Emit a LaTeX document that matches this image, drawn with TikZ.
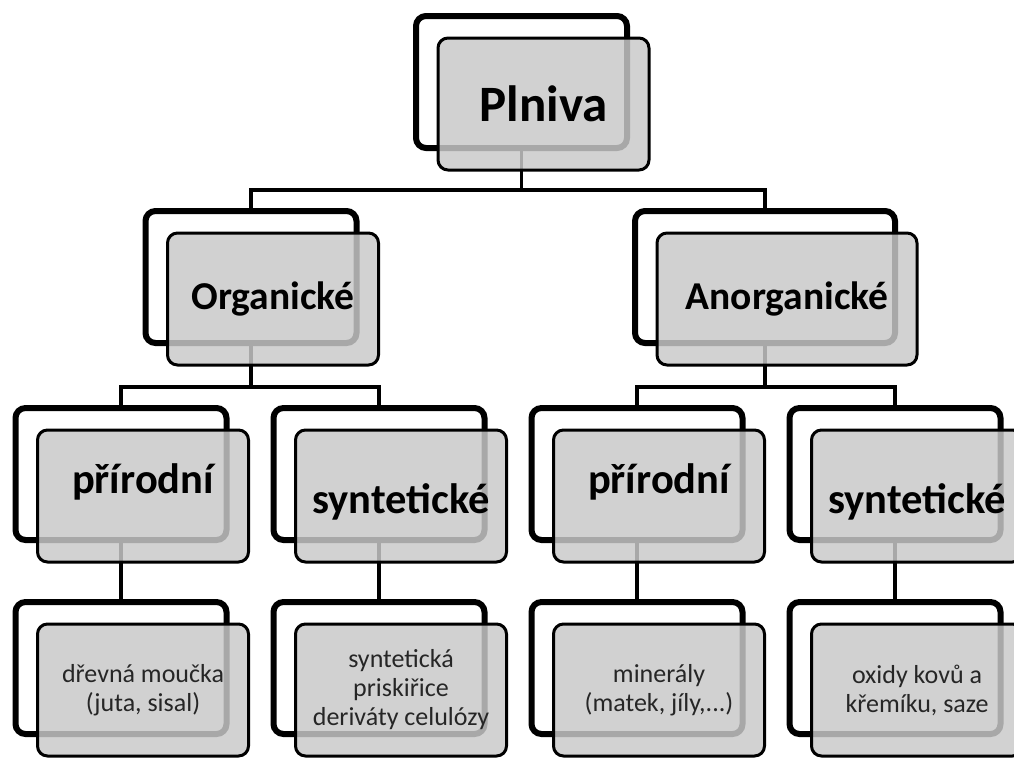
\documentclass[tikz,border=0pt]{standalone}
\usepackage{fontspec}
\setmainfont{Carlito}

\begin{document}
\begin{tikzpicture}[x=1pt,y=-1pt]
      \tikzset{
        back/.style={draw,line width=6pt,rounded corners=10pt,fill=white,inner sep=0pt,
                     minimum width=211pt,minimum height=132pt},
        front/.style={draw,line width=3pt,rounded corners=10pt,fill=black!21,fill opacity=0.84,
                      text opacity=1,inner sep=0pt,align=center,
                      minimum width=211pt,minimum height=132pt},
        link/.style={line width=3.5pt},
        lvlA/.style={font=\bfseries\fontsize{51}{56}\selectfont,text height=34pt,text depth=0pt},
        lvlB/.style={font=\bfseries\fontsize{39.5}{44}\selectfont,text height=20pt,text depth=0pt},
        lvlC/.style={font=\bfseries\fontsize{42.5}{48}\selectfont,text height=34pt,text depth=0pt},
        lvlCup/.style={font=\bfseries\fontsize{42.5}{48}\selectfont,text height=0pt,text depth=6pt},
        lvlD/.style={font=\fontsize{26}{29}\selectfont,text=black!85}
      }
      \useasboundingbox (0,0) rectangle (1014,758);

      % back frames
      \node[back] (plnivaB) at (521.5,82) {};
      \node[back] (orgB) at (251,277) {};
      \node[back,minimum width=260pt] (anorgB) at (765,277) {};
      \node[back] (p1B) at (121,474) {};
      \node[back] (s1B) at (379,474) {};
      \node[back] (p2B) at (637,474) {};
      \node[back] (s2B) at (895,474) {};
      \node[back] (drevB) at (121,668) {};
      \node[back] (pryskB) at (379,668) {};
      \node[back] (minB) at (637,668) {};
      \node[back] (oxB) at (895,668) {};

      % connectors
      \coordinate (bus1) at (521.5,190);
      \coordinate (bus2) at (251,387);
      \coordinate (bus3) at (765,387);
      \draw[link] (plnivaB.south) -- (bus1);
      \draw[link] (orgB.north) |- (bus1) -| (anorgB.north);
      \draw[link] (orgB.south) -- (bus2);
      \draw[link] (p1B.north) |- (bus2) -| (s1B.north);
      \draw[link] (anorgB.south) -- (bus3);
      \draw[link] (p2B.north) |- (bus3) -| (s2B.north);
      \draw[link] (p1B) edge (drevB)
                  (s1B) edge (pryskB)
                  (p2B) edge (minB)
                  (s2B) edge (oxB);

      % front boxes
      \node[front,lvlA] (plniva) at ([shift={(22,22)}]plnivaB) {Plniva};
      \node[front,lvlB] (org) at ([shift={(22,22)}]orgB) {Organické};
      \node[front,lvlB,minimum width=260pt] (anorg) at ([shift={(22,22)}]anorgB) {Anorganické};
      \node[front,lvlCup] (p1) at ([shift={(22,22)}]p1B) {přírodní};
      \node[front,lvlC] (s1) at ([shift={(22,22)}]s1B) {syntetické};
      \node[front,lvlCup] (p2) at ([shift={(22,22)}]p2B) {přírodní};
      \node[front,lvlC] (s2) at ([shift={(22,22)}]s2B) {syntetické};
      \node[front,lvlD] (drev) at ([shift={(22,22)}]drevB) {dřevná moučka\\(juta, sisal)};
      \node[front,lvlD] (prysk) at ([shift={(22,22)}]pryskB) {syntetická\\priskiřice\\deriváty celulózy};
      \node[front,lvlD] (min) at ([shift={(22,22)}]minB) {minerály\\(matek, jíly,...)};
      \node[front,lvlD] (ox) at ([shift={(22,22)}]oxB) {oxidy kovů a\\křemíku, saze};
\end{tikzpicture}
\end{document}
